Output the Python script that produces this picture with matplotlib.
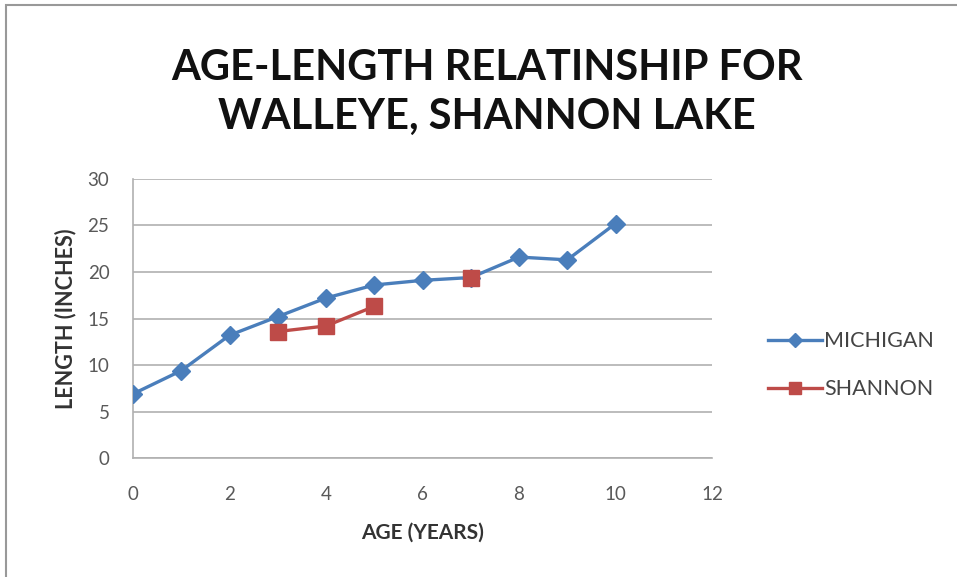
import numpy as np
import matplotlib.pyplot as plt
from matplotlib.patches import Rectangle

# Walleye length (inches) by age (years); no Shannon sample at age 6
michigan_age = [0, 1, 2, 3, 4, 5, 6, 7, 8, 9, 10]
michigan_len = [6.9, 9.4, 13.2, 15.2, 17.2, 18.6, 19.1, 19.4, 21.6, 21.3, 25.2]
shannon_age = [3, 4, 5, 6, 7]
shannon_len = [13.6, 14.2, 16.3, np.nan, 19.4]

x_ticks = [0, 2, 4, 6, 8, 10, 12]
y_ticks = [0, 5, 10, 15, 20, 25, 30]

plt.rcParams['font.family'] = ['Lato', 'DejaVu Sans']

fig = plt.figure(figsize=(9.57, 5.77), dpi=100)
ax = fig.add_axes([0.139, 0.206, 0.605, 0.484])

ax.plot(michigan_age, michigan_len, color='#4a7ebb', lw=2.4, marker='D',
        markersize=9, label='MICHIGAN', zorder=3)
ax.plot(shannon_age, shannon_len, color='#be4b48', lw=2.4, marker='s',
        markersize=11, label='SHANNON', zorder=4)

ax.set_xlim(0, 12)
ax.set_ylim(0, 30)
ax.set_xticks(x_ticks)
ax.set_yticks(y_ticks)
ax.tick_params(length=0, labelsize=13.5, labelcolor='#595959')
ax.tick_params(axis='x', pad=20)
ax.tick_params(axis='y', pad=17)
ax.yaxis.grid(True, color='#b0b0b0', lw=1.2)
ax.set_axisbelow(True)
for side in ['top', 'right']:
    ax.spines[side].set_visible(False)
for side in ['left', 'bottom']:
    ax.spines[side].set_color('#b0b0b0')
    ax.spines[side].set_linewidth(1.2)

ax.set_xlabel('AGE (YEARS)', fontsize=15, fontweight='bold', color='#333333', labelpad=14)
ax.set_ylabel('LENGTH (INCHES)', fontsize=15.5, fontweight='bold', color='#333333', labelpad=8)

fig.text(0.509, 0.84, 'AGE-LENGTH RELATINSHIP FOR\nWALLEYE, SHANNON LAKE',
         ha='center', va='center', fontsize=30, fontweight='bold',
         linespacing=1.35, color='#111111')

ax.legend(loc='center left', bbox_to_anchor=(1.097, 0.333), frameon=False,
          borderpad=0, borderaxespad=0, fontsize=15.5, labelcolor='#444444',
          handlelength=2.5, handletextpad=0.1, labelspacing=1.3, markerscale=0.8)

# thin frame around the chart
fig.patches.append(Rectangle((0.006, -0.02), 1.1, 1.011, transform=fig.transFigure,
                             fill=False, edgecolor='#999999', lw=1.5))

fig.savefig('out.png', dpi=100)
